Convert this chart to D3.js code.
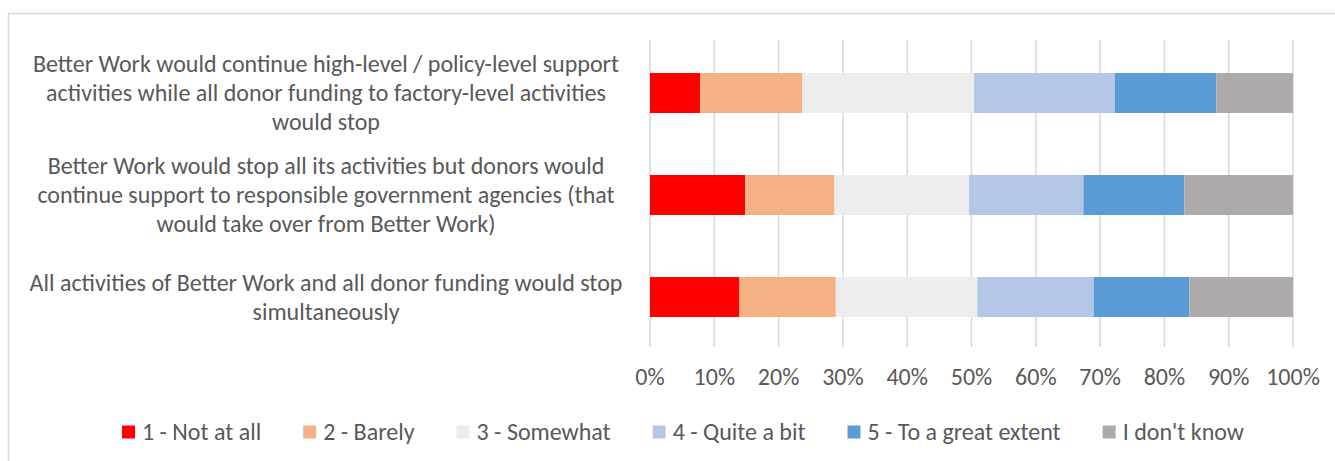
<!DOCTYPE html>
<html>
<head>
<meta charset="utf-8">
<script src="https://cdn.jsdelivr.net/npm/d3@7"></script>
<style>
  body { margin: 0; background: #fff; }
  text { font-family: Calibri, Carlito, "Liberation Sans", Arial, sans-serif; fill: #595959; }
</style>
</head>
<body>
<div id="chart"></div>
<script>
// survey question rows (top to bottom), each label split on its lines
const categories = ["policy", "govt", "all"];
const categoryLines = [
  ["Better Work would continue high-level / policy-level support",
   "activities while all donor funding to factory-level activities",
   "would stop"],
  ["Better Work would stop all its activities but donors would",
   "continue support to responsible government agencies (that",
   "would take over from Better Work)"],
  ["All activities of Better Work and all donor funding would stop",
   "simultaneously"]
];
const seriesNames = ["1 - Not at all", "2 - Barely", "3 - Somewhat", "4 - Quite a bit", "5 - To a great extent", "I don't know"];
const seriesColors = ["#ff0000", "#f4b183", "#ededed", "#b4c7e7", "#5b9bd5", "#aeaaaa"];
// shares in percent, one array per answer, rows in category order
const notAtAll = [7.8, 14.8, 13.9];
const barely = [15.9, 13.9, 15.0];
const somewhat = [26.7, 20.9, 22.0];
const quiteABit = [21.9, 17.8, 18.1];
const greatExtent = [15.8, 15.7, 14.9];
const dontKnow = [11.9, 16.9, 16.1];
const tickValues = [0, 10, 20, 30, 40, 50, 60, 70, 80, 90, 100];

(function(){
  const W = 1335, H = 461;
  const fs = 24;
  const svg = d3.select("#chart").append("svg").attr("width", W).attr("height", H);

  // chart frame
  svg.append("rect").attr("x", 8.5).attr("y", 13.5).attr("width", W + 10).attr("height", H + 10)
    .attr("fill", "none").attr("stroke", "#d9d9d9").attr("stroke-width", 1.5);

  const series = [notAtAll, barely, somewhat, quiteABit, greatExtent, dontKnow];
  const rows = categories.map((c, i) => {
    const r = { cat: c };
    series.forEach((s, k) => r["s" + k] = s[i]);
    return r;
  });
  const keys = series.map((s, k) => "s" + k);
  const stacked = d3.stack().keys(keys)(rows);

  const x = d3.scaleLinear().domain([0, 100]).range([650, 1293]);
  const y = d3.scaleBand().domain(categories).range([42, 348]).paddingInner(0.608).paddingOuter(0.304);

  // gridlines
  svg.append("g").selectAll("line").data(tickValues).join("line")
    .attr("x1", d => x(d)).attr("x2", d => x(d))
    .attr("y1", 40).attr("y2", 347)
    .attr("stroke", "#d9d9d9").attr("stroke-width", 1.5);

  // bars
  svg.append("g").selectAll("g").data(stacked).join("g")
    .attr("fill", (d, i) => seriesColors[i])
    .selectAll("rect").data(d => d).join("rect")
    .attr("x", d => x(d[0]))
    .attr("width", d => x(d[1]) - x(d[0]))
    .attr("y", d => y(d.data.cat))
    .attr("height", y.bandwidth());

  // x tick labels
  svg.append("g").selectAll("text").data(tickValues).join("text")
    .attr("x", d => x(d)).attr("y", 377).attr("dy", "0.35em")
    .attr("text-anchor", "middle").attr("font-size", fs)
    .text(d => d + "%");

  // category labels
  const lineH = 29;
  categories.forEach((c, i) => {
    const lines = categoryLines[i];
    const cy = y(c) + y.bandwidth() / 2;
    const t = svg.append("text").attr("text-anchor", "middle").attr("font-size", fs);
    lines.forEach((l, j) => {
      t.append("tspan").attr("x", 326)
        .attr("y", cy + (j - (lines.length - 1) / 2) * lineH)
        .attr("dy", "0.35em").text(l);
    });
  });

  // legend
  const legend = svg.append("g").attr("transform", "translate(122,432)");
  let lx = 0;
  seriesNames.forEach((n, i) => {
    const g = legend.append("g").attr("transform", `translate(${lx},0)`);
    g.append("rect").attr("x", 0).attr("y", -6.5).attr("width", 13).attr("height", 13).attr("fill", seriesColors[i]);
    const t = g.append("text").attr("x", 20).attr("dy", "0.35em").attr("font-size", fs).text(n);
    lx += 20 + t.node().getComputedTextLength() + 42;
  });
})();
</script>
</body>
</html>
